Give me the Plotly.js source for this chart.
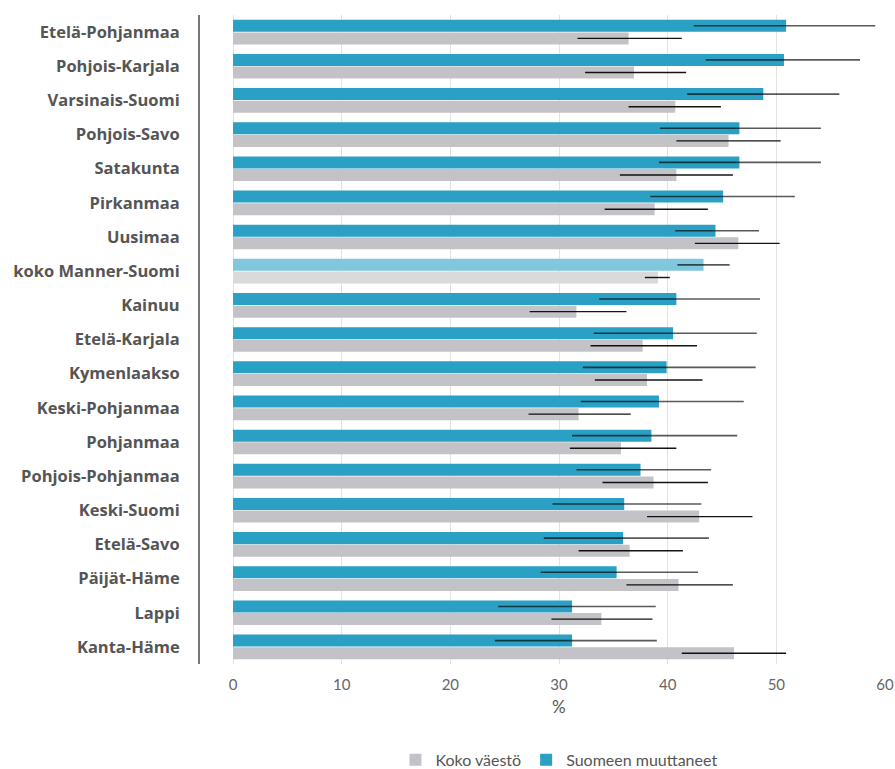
<!DOCTYPE html>
<html>
<head>
<meta charset="utf-8">
<script src="https://cdn.plot.ly/plotly-3.0.1.min.js"></script>
<style>html,body{margin:0;padding:0;background:#fff;}#chart{width:895px;height:769px;}</style>
</head>
<body>
<div id="chart"></div>
<script>
const regions = ["Etelä-Pohjanmaa","Pohjois-Karjala","Varsinais-Suomi","Pohjois-Savo","Satakunta","Pirkanmaa","Uusimaa","koko Manner-Suomi","Kainuu","Etelä-Karjala","Kymenlaakso","Keski-Pohjanmaa","Pohjanmaa","Pohjois-Pohjanmaa","Keski-Suomi","Etelä-Savo","Päijät-Häme","Lappi","Kanta-Häme"];

const migrants = [50.9,50.7,48.8,46.6,46.6,45.1,44.4,43.3,40.8,40.5,39.9,39.2,38.5,37.5,36.0,35.9,35.3,31.2,31.2];
const migrantsLow = [42.4,43.5,41.8,39.3,39.2,38.4,40.7,40.9,33.7,33.2,32.2,32.0,31.2,31.6,29.4,28.6,28.3,24.4,24.1];
const migrantsHigh = [59.1,57.7,55.8,54.1,54.1,51.7,48.4,45.7,48.5,48.2,48.1,47.0,46.4,44.0,43.1,43.8,42.8,38.9,39.0];

const population = [36.4,36.9,40.7,45.6,40.8,38.8,46.5,39.1,31.6,37.7,38.1,31.8,35.7,38.7,42.9,36.5,41.0,33.9,46.1];
const populationLow = [31.7,32.4,36.4,40.8,35.6,34.2,42.5,37.9,27.3,32.9,33.3,27.2,31.0,34.0,38.1,31.8,36.2,29.3,41.3];
const populationHigh = [41.3,41.7,44.9,50.4,46.0,43.7,50.3,40.2,36.2,42.7,43.2,36.6,40.8,43.7,47.8,41.4,46.0,38.6,50.9];

const tickVals = [0,10,20,30,40,50,60];

const BLUE = "#2aa0c4", BLUE_LIGHT = "#80c6dc";
const GRAY = "#c3c2c7", GRAY_LIGHT = "#dadadb";
const TOTAL = "koko Manner-Suomi";

const blueColors = regions.map(r => r === TOTAL ? BLUE_LIGHT : BLUE);
const grayColors = regions.map(r => r === TOTAL ? GRAY_LIGHT : GRAY);

const traces = [
  {
    type: "bar", orientation: "h", name: "Suomeen muuttaneet",
    y: regions, x: migrants,
    marker: {color: blueColors, line: {width: 0}},
    error_x: {type: "data", symmetric: false,
      array: migrants.map((v,i) => migrantsHigh[i] - v),
      arrayminus: migrants.map((v,i) => v - migrantsLow[i]),
      color: "rgba(0,0,0,0.65)", thickness: 1.6, width: 0},
    hoverinfo: "x+y"
  },
  {
    type: "bar", orientation: "h", name: "Koko väestö",
    y: regions, x: population,
    marker: {color: grayColors, line: {width: 0}},
    error_x: {type: "data", symmetric: false,
      array: population.map((v,i) => populationHigh[i] - v),
      arrayminus: population.map((v,i) => v - populationLow[i]),
      color: "rgba(0,0,0,0.92)", thickness: 1.4, width: 0},
    hoverinfo: "x+y"
  }
];

const layout = {
  width: 895, height: 769,
  margin: {l: 200, r: 10, t: 15, b: 105, autoexpand: false},
  paper_bgcolor: "#fff", plot_bgcolor: "#fff",
  font: {family: "Lato, 'Noto Sans', sans-serif", color: "#555"},
  barmode: "group", bargap: 0.26, bargroupgap: 0.05,
  showlegend: true,
  legend: {orientation: "h", x: 0.524, xanchor: "center",
    yref: "container", y: 0.012, yanchor: "middle",
    traceorder: "reversed", font: {size: 16, color: "#555"}},
  xaxis: {
    range: [-3.04, 60], tickvals: tickVals, ticktext: tickVals.map(String),
    showgrid: true, gridcolor: "#e2e2e2", gridwidth: 1, zeroline: false,
    showline: false, ticks: "", automargin: false,
    ticklabelstandoff: 10,
    tickfont: {size: 15, color: "#666"}
  },
  yaxis: {
    autorange: "reversed", showgrid: false, zeroline: false,
    showline: true, linecolor: "#777", linewidth: 2, ticks: "",
    ticklabelstandoff: 15, automargin: false,
    tickfont: {family: "'Open Sans', sans-serif", size: 16.5, color: "#555", weight: "bold"}
  },
  annotations: [{
    text: "%", xref: "x", x: 30, yref: "paper", y: -0.065, yanchor: "middle",
    showarrow: false, font: {size: 17, color: "#555"}
  }]
};

Plotly.newPlot("chart", traces, layout, {displayModeBar: false, staticPlot: true});
</script>
</body>
</html>
